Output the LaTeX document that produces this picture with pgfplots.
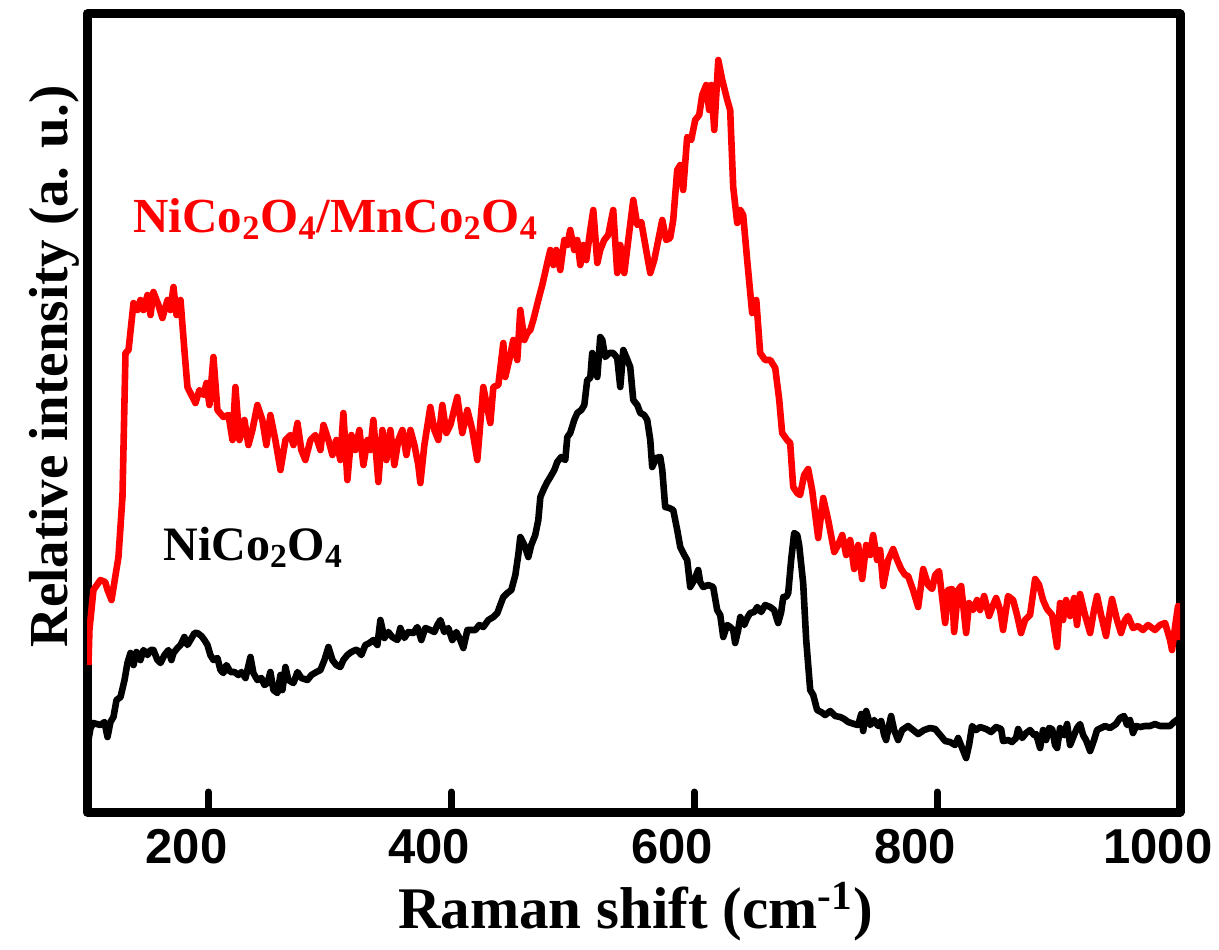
\documentclass[border=0pt]{standalone}
\usepackage{fontspec}
\setmainfont{Liberation Serif}
\newfontfamily\sansfnt{Liberation Sans}
\usepackage{pgfplots}
\pgfplotsset{compat=1.18}
\begin{document}
\begin{tikzpicture}
\begin{axis}[
  name=ax,
  scale only axis,
  width=546.5pt, height=399pt,
  xmin=100, xmax=1000, ymin=-12, ymax=786,
  axis line style={line width=4.5pt, line join=round},
  xtick={200,400,600,800,1000},
  xticklabels={200,400,600,800,1000},
  xtick pos=bottom,
  ytick=\empty,
  major tick length=10pt,
  every tick/.style={line width=3.5pt, black, line cap=round},
  xticklabel style={font=\sansfnt\bfseries\fontsize{24.5}{28}\selectfont, anchor=base, xshift=-11pt, yshift=-25.5pt},
  xlabel={Raman shift (cm\textsuperscript{-1})},
  xlabel style={font=\bfseries\fontsize{29.5}{34}\selectfont, at={(axis description cs:0.5018,0)}, anchor=base, yshift=-58pt},
  ylabel={Relative intensity (a. u.)},
  ylabel style={font=\bfseries\fontsize{27.5}{32}\selectfont, at={(axis description cs:-0.0183,0.5583)}, anchor=base},
]
\addplot[black, line width=3.3pt, line join=round] coordinates {
(101.2,60) (102.9,72) (105.3,77) (111,75) (114.4,78) (116.9,63) (119.3,78) (121.8,83) (124.3,100) (127.6,103)
(130.9,120) (133.3,137) (135.8,147) (138.3,135) (140.7,148) (144,140) (146.5,150) (149.8,145) (152.3,150) (154.7,150)
(158,140) (160.5,137) (163.8,145) (167.1,150) (169.5,140) (171.2,147) (174.5,152) (177,155) (180.2,163) (182.7,155)
(185.2,160) (188.5,167) (190.9,167) (194.2,164) (196.7,160) (199.2,155) (201.6,145) (204.1,140) (207.4,142) (209.9,130)
(212.3,127) (214.8,135) (218.1,128) (221.4,128) (224.7,125) (227.2,128) (230.5,122) (234.6,143) (237,127) (240.3,120)
(243.6,122) (246.1,115) (248.6,117) (251,128) (253.5,110) (256.8,107) (259.3,125) (260.9,110) (263.4,133) (265.8,120)
(270,117) (273.3,128) (276.5,122) (281.5,120) (284.8,125) (288.9,128) (292.2,130) (295.5,140) (298.8,153) (302.1,140)
(305.3,135) (308.6,133) (311.1,140) (314.4,145) (317.7,148) (321,150) (322.6,150) (325.9,145) (329.2,155) (332.5,157)
(335.8,160) (339.1,155) (341.6,180) (344.9,162) (348.1,168) (351.4,163) (355.6,160) (358,172) (361.3,162) (364.6,168)
(368.7,167) (372,173) (375.3,160) (378.6,172) (382.7,170) (386,168) (388.5,175) (391,180) (394.2,168) (397.5,172)
(400.8,160) (404.1,168) (407.4,160) (409.9,152) (413.2,170) (415.6,170) (419.8,170) (423,175) (426.3,173) (430.5,180)
(434.6,183) (437.9,187) (440.3,195) (442.8,203) (446.1,207) (449.4,210) (452.7,225) (455.1,245) (456.8,263) (460.1,255)
(463.4,243) (465.8,255) (469.1,265) (471.6,280) (473.3,303) (476.5,312) (479,318) (481.5,323) (484.8,330) (487.2,338)
(490.5,343) (493.8,340) (495.5,363) (497.9,367) (501.2,380) (503.7,387) (507,390) (509.5,395) (511.9,420) (514.4,422)
(516,447) (517.7,440) (520.2,423) (522.6,463) (524.3,460) (526.7,443) (530,447) (533.3,447) (536.6,442) (539.1,413)
(541.6,450) (544,443) (547.3,433) (549.8,400) (553.1,395) (555.6,387) (558.8,385) (561.3,380) (563.8,360) (565.4,333)
(568.7,342) (572,343) (573.7,330) (576.1,293) (579.4,292) (582.7,290) (586,270) (588.5,253) (591.8,245) (594.2,240)
(596.7,213) (600,220) (603.3,230) (604.9,218) (607.4,213) (611.5,215) (615.6,213) (618.9,190) (621.4,185) (623.9,163)
(627.2,175) (629.6,173) (632.1,170) (633.7,157) (636.2,170) (637.9,183) (641.2,175) (643.6,182) (646.1,187) (649.4,188)
(651.9,193) (655.1,188) (658.4,195) (662.6,193) (665.8,190) (669.1,177) (671.6,188) (673.3,203) (675.7,203) (677.4,207)
(679.8,240) (682.3,267) (684.8,265) (686.4,255) (689.7,217) (692.2,160) (695.5,110) (698,105) (701.2,90) (704.5,88)
(707.8,85) (712,89) (716.1,84) (720.2,83) (723.5,81) (726.8,78) (731.7,76) (735,75) (737.5,86) (739.1,69)
(741.6,89) (744.9,75) (748.1,80) (751.4,74) (753.9,79) (756.4,65) (758,60) (760.5,75) (762.1,84) (764.6,70)
(767.9,60) (771.2,70) (776.1,74) (780.2,70) (784.4,66) (789.3,70) (794.2,72) (798.4,71) (802.5,65) (806.6,59)
(810.7,58) (814.8,55) (817.3,62) (820.6,52) (823.9,42) (826.3,55) (828.8,74) (832.1,70) (835.4,73) (840.3,71)
(844.4,68) (848.6,73) (852.7,71) (854.3,59) (858.4,60) (861.7,58) (865,62) (866.7,71) (870,62) (873.3,67)
(876.5,70) (879.8,65) (881.5,66) (884.8,52) (887.2,70) (889.7,60) (892.2,72) (894.7,71) (897.1,55) (898.8,52)
(901.2,72) (904.5,65) (907,76) (909.5,55) (912.8,65) (915.2,72) (917.7,76) (920.2,65) (922.6,60) (926,49)
(929.2,60) (931.7,70) (935,72) (938.3,74) (942.4,72) (947.3,76) (950.6,82) (953.9,84) (956.4,75) (958.8,80)
(961.3,67) (963.8,74) (967.1,73) (971.2,74) (975.3,74) (979.4,76) (983.5,74) (987.7,74) (991.8,74) (995.1,78) (998.4,81)
};
\addplot[red, line width=3.3pt, line join=round] coordinates {
(101.2,135) (102,170) (105.3,210) (111,220) (115,218) (116.9,210) (120.2,200) (125.9,243) (129.2,303) (131.7,447)
(134.2,450) (138.3,497) (141.6,490) (144,500) (146.5,490) (149.8,505) (152.3,485) (154.7,508) (158.8,495) (162.1,482)
(166.3,500) (168.7,490) (171.2,513) (173.7,485) (177,500) (180.2,450) (182.7,413) (186,405) (189.3,397) (192.6,410)
(195.9,405) (198.4,417) (200.8,395) (204.1,443) (207.4,390) (212.3,383) (216.5,385) (219.8,360) (222.2,413) (225.5,360)
(229.6,380) (232.9,355) (236.2,370) (240.3,395) (244.4,380) (247.7,355) (251,385) (255.1,360) (259.3,330) (263.4,360)
(267.5,365) (270,355) (273.3,377) (276.5,350) (279.8,340) (284,360) (288.1,365) (292.2,350) (294.7,375) (298.8,360)
(302.1,345) (305.3,360) (308.6,340) (311.1,387) (314.4,320) (317.7,365) (321,350) (324.3,370) (327.6,335) (330.9,360)
(333.3,350) (335.8,380) (339.9,318) (343.2,370) (346.5,340) (349.8,370) (353.1,335) (356.4,360) (359.7,370) (363,345)
(366.3,370) (369.6,355) (372.8,335) (374.5,317) (377.8,355) (382.7,393) (386,370) (389.3,360) (392.6,395) (395.9,367)
(399.2,375) (404.9,403) (409,367) (413.2,390) (417.3,370) (421.4,340) (426.3,413) (432.1,377) (434.6,413) (438.7,415)
(442.8,457) (444.4,423) (447.7,440) (451,460) (454.3,440) (456.8,490) (460.1,460) (462.6,467) (465,470) (467.5,480)
(471.6,500) (474.9,515) (479,537) (481.5,550) (484,535) (486.4,550) (489.7,530) (493,560) (495.5,555) (497.9,570)
(501.2,550) (503.7,560) (506.2,535) (508.6,555) (511.1,540) (514.4,570) (516.9,590) (520.2,537) (522.6,550) (525.9,560)
(529.2,565) (533.3,590) (536.6,527) (539.1,555) (542.4,527) (545.7,560) (549.8,600) (553.1,575) (556.4,578) (559.7,555)
(563.8,527) (567.1,540) (570.4,560) (573.7,580) (576.9,560) (580.2,562) (582.7,580) (586,630) (588.5,635) (590.9,610)
(594.2,663) (597.5,660) (600.8,680) (604.1,685) (606.6,705) (609.9,715) (612.3,690) (614,715) (616.5,670) (619.8,740)
(623.1,720) (627.2,700) (629.6,690) (632.1,613) (635.4,577) (637.9,590) (640.3,585) (643.6,540) (647.7,487) (651.1,500)
(654.3,447) (658.4,440) (662.6,440) (666.7,432) (670,400) (672.4,367) (676.5,360) (679,357) (681.5,313) (684.8,307)
(687.2,305) (690.5,325) (693.8,331) (697.1,310) (702.1,262) (706.2,302) (710.3,280) (715.3,248) (718.5,255) (721.9,265)
(725.1,245) (728.4,260) (731.7,231) (735,255) (738.3,221) (741.6,255) (744.9,245) (747.3,265) (750.6,240) (753.1,250)
(755.6,214) (759.7,240) (763.8,251) (767.1,240) (770.4,231) (773.7,225) (776.1,224) (780.2,210) (784.4,193) (788.5,231)
(792.6,215) (795.9,211) (798.4,225) (801.6,229) (806.6,177) (809.1,210) (812.3,211) (814,168) (817.3,210) (819.8,214)
(823.9,167) (826.3,197) (829.6,190) (832.9,200) (835.4,190) (838.7,204) (842.8,184) (846.1,195) (848.6,202) (851.9,190)
(854.3,170) (858.4,204) (862.6,200) (865.8,185) (869.1,167) (872.4,180) (876.5,185) (880.7,221) (884,215) (887.2,200)
(890.5,191) (894.7,185) (898.8,153) (901.2,197) (903.7,180) (906.2,200) (909.5,184) (912.8,202) (915.2,175) (917.7,206)
(921.8,185) (926,167) (929.2,190) (931.7,204) (935,185) (939.1,164) (942.4,190) (944,201) (948.1,180) (951.4,167)
(954.7,180) (957.2,184) (961.3,172) (965.4,174) (969.5,170) (973.7,175) (979.4,170) (983.5,175) (987.7,177) (991.8,160)
(993.4,150) (996.7,180) (998.4,194) (999.2,160)
};
\node[anchor=base west, inner sep=0pt, text=red, font=\bfseries\fontsize{24.5}{30}\selectfont]
  at (axis description cs:0.0421,0.7268) {NiCo\textsubscript{2}O\textsubscript{4}/MnCo\textsubscript{2}O\textsubscript{4}};
\node[anchor=base west, inner sep=0pt, text=black, font=\bfseries\fontsize{24}{30}\selectfont]
  at (axis description cs:0.0695,0.3158) {NiCo\textsubscript{2}O\textsubscript{4}};
\end{axis}
\pgfresetboundingbox
\path[use as bounding box] ([xshift=-43.5pt,yshift=-68.5pt]ax.south west) rectangle ([xshift=19.5pt,yshift=7pt]ax.north east);
\end{tikzpicture}
\end{document}
